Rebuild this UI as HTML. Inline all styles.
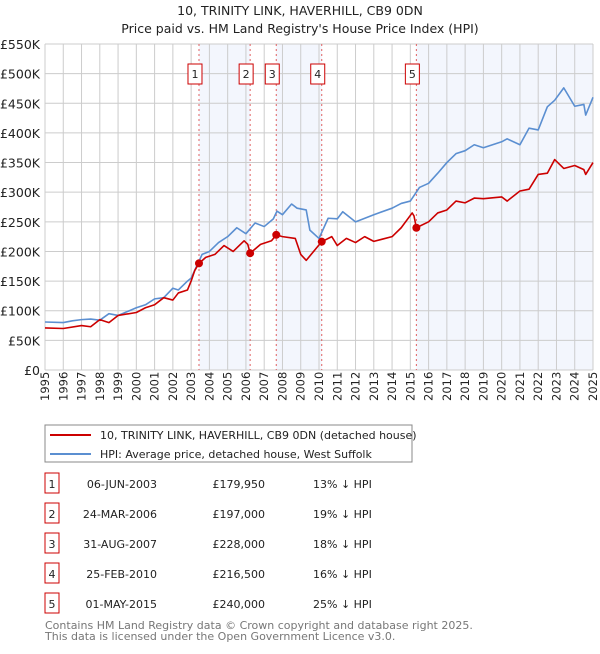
<!DOCTYPE html>
<html><head><meta charset="utf-8"><style>
body{margin:0;background:#fff;font-family:"DejaVu Sans","Liberation Sans",sans-serif;}
svg text{font-family:"DejaVu Sans","Liberation Sans",sans-serif;}
</style></head><body>
<svg id="c" width="600" height="650" xmlns="http://www.w3.org/2000/svg">
<text x="300" y="15" text-anchor="middle" font-size="12.5" fill="#222">10, TRINITY LINK, HAVERHILL, CB9 0DN</text>
<text x="300" y="33" text-anchor="middle" font-size="12.5" fill="#222">Price paid vs. HM Land Registry's House Price Index (HPI)</text>
<g id="bands"></g><g id="grid"></g><g id="series"></g><g id="marks"></g>
<rect x="45" y="425" width="367" height="37" fill="#fff" stroke="#888"/>
<line x1="50" y1="435" x2="91" y2="435" stroke="#cc0000" stroke-width="2"/>
<text x="100" y="439" font-size="11" fill="#222">10, TRINITY LINK, HAVERHILL, CB9 0DN (detached house)</text>
<line x1="50" y1="454" x2="91" y2="454" stroke="#5b8fd1" stroke-width="2"/>
<text x="100" y="458" font-size="11" fill="#222">HPI: Average price, detached house, West Suffolk</text>
<g id="table"></g>
<text x="45" y="629" font-size="11" fill="#777">Contains HM Land Registry data © Crown copyright and database right 2025.</text>
<text x="45" y="640" font-size="11" fill="#777">This data is licensed under the Open Government Licence v3.0.</text>
</svg>
<script>
const yTicks=[0,50,100,150,200,250,300,350,400,450,500,550];
const years=[1995,1996,1997,1998,1999,2000,2001,2002,2003,2004,2005,2006,2007,2008,2009,2010,2011,2012,2013,2014,2015,2016,2017,2018,2019,2020,2021,2022,2023,2024,2025];
const hpiT=[1995,1996,1996.5,1997,1997.5,1998,1998.5,1999,2000,2000.5,2001,2001.5,2002,2002.3,2002.8,2003,2003.3,2003.6,2004,2004.5,2005,2005.5,2006,2006.5,2007,2007.5,2007.7,2008,2008.5,2008.8,2009.3,2009.5,2010,2010.5,2011,2011.3,2012,2013,2014,2014.5,2015,2015.5,2016,2016.5,2017,2017.5,2018,2018.5,2019,2020,2020.3,2021,2021.5,2022,2022.5,2022.9,2023.4,2024,2024.5,2024.6,2025];
const hpiV=[81,80,83,85,86,84,95,92,105,110,120,122,138,135,150,155,175,195,200,215,225,240,230,248,242,255,268,262,280,273,270,236,222,256,255,267,250,262,273,281,285,308,315,332,350,365,370,380,375,385,390,380,408,405,444,455,476,445,448,430,460];
const ppT=[1995,1996,1997,1997.5,1998,1998.5,1999,2000,2000.5,2001,2001.5,2002,2002.3,2002.8,2003,2003.2,2003.43,2003.8,2004.3,2004.8,2005.3,2005.9,2006.1,2006.23,2006.8,2007.4,2007.66,2008,2008.7,2009,2009.3,2010.15,2010.7,2011,2011.5,2012,2012.5,2013,2014,2014.5,2015.1,2015.2,2015.33,2016,2016.5,2017,2017.5,2018,2018.5,2019,2020,2020.3,2021,2021.5,2022,2022.5,2022.9,2023.4,2024,2024.5,2024.6,2025];
const ppV=[71,70,75,73,85,80,92,97,105,110,122,118,130,135,150,168,179.95,190,195,210,200,218,212,197,212,218,228,225,222,195,185,216.5,225,210,222,215,225,217,225,240,265,260,240,250,265,270,285,282,290,289,292,285,302,305,330,332,355,340,345,338,330,350];
const saleT=[2003.43,2006.23,2007.66,2010.15,2015.33];
const saleV=[179.95,197,228,216.5,240];
const saleDates=["06-JUN-2003","24-MAR-2006","31-AUG-2007","25-FEB-2010","01-MAY-2015"];
const salePrices=["£179,950","£197,000","£228,000","£216,500","£240,000"];
const salePct=["13% ↓ HPI","19% ↓ HPI","18% ↓ HPI","16% ↓ HPI","25% ↓ HPI"];
const NS="http://www.w3.org/2000/svg";
const L=45,R=593,T=44,B=370;
const X=t=>L+(t-1995)/30*(R-L);
const Y=v=>B-v/550*(B-T);
function mk(p,tag,a){const e=document.createElementNS(NS,tag);for(const k in a)e.setAttribute(k,a[k]);document.getElementById(p).appendChild(e);return e;}
const bandEnds=[[0,1],[2,3],[4,null]];
bandEnds.forEach(([a,b])=>{const x1=X(saleT[a]),x2=b===null?R:X(saleT[b]);
const r=mk('bands','rect',{x:x1,y:T,width:x2-x1,height:B-T,fill:'#f3f6fd'});

});
years.forEach(y=>{const l=mk('grid','line',{x1:X(y),x2:X(y),y1:T,y2:B,stroke:'#ccc'});


const t=mk('grid','text',{transform:`translate(${X(y)+4},${B+31}) rotate(-90)`,'font-size':11.5,fill:'#222'});t.textContent=y;

});
yTicks.forEach(v=>{const l=mk('grid','line',{x1:L,x2:R,y1:Y(v),y2:Y(v),stroke:'#ccc'});


const t=mk('grid','text',{x:40,y:Y(v)+5,'text-anchor':'end','font-size':12.5,fill:'#222'});t.textContent=v===0?'£0':'£'+v+'K';

});
saleT.forEach((t,i)=>{const l=mk('grid','line',{x1:X(t),x2:X(t),y1:T,y2:B,stroke:'#e06060','stroke-dasharray':'2,3'});


const r=mk('marks','rect',{x:X(t)-11,y:64,width:14,height:20,fill:'#fff',stroke:'#cc0000'});


const tx=mk('marks','text',{x:X(t)-4,y:78,'text-anchor':'middle','font-size':11,fill:'#222'});tx.textContent=i+1;

});
function line(ts,vs,c,name){const p=mk('series','polyline',{points:ts.map((t,i)=>X(t)+','+Y(vs[i])).join(' '),fill:'none',stroke:c,'stroke-width':1.6,'stroke-linejoin':'round'});

}
line(hpiT,hpiV,'#5b8fd1','hpi-line');
line(ppT,ppV,'#cc0000','property-price-line');
saleT.forEach((t,i)=>{const c=mk('marks','circle',{cx:X(t),cy:Y(saleV[i]),r:4,fill:'#cc0000'});

});
saleDates.forEach((d,i)=>{const y=484+i*30;
const r=mk('table','rect',{x:45,y:y-11,width:14,height:20,fill:'#fff',stroke:'#cc0000'});


const n=mk('table','text',{x:52,y:y+4,'text-anchor':'middle','font-size':11,fill:'#222'});n.textContent=i+1;


const a=mk('table','text',{x:157,y:y+4,'text-anchor':'end','font-size':11,fill:'#222'});a.textContent=d;


const b=mk('table','text',{x:265,y:y+4,'text-anchor':'end','font-size':11,fill:'#222'});b.textContent=salePrices[i];


const c=mk('table','text',{x:313,y:y+4,'font-size':11,fill:'#222'});c.textContent=salePct[i];

});
</script>
</body></html>
